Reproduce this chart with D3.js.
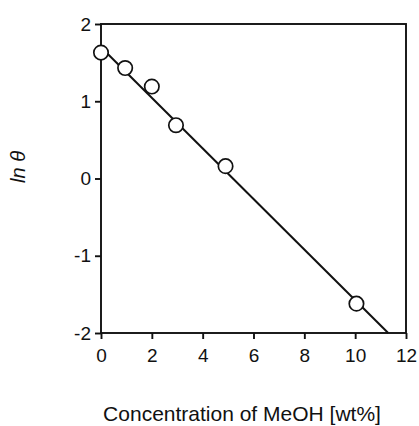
<!DOCTYPE html>
<html>
<head>
<meta charset="utf-8">
<script src="https://cdn.jsdelivr.net/npm/d3@7"></script>
<style>
	body { margin: 0; background: #fff; }
	text { font-family: "Liberation Sans", Arial, sans-serif; fill: #111; }
</style>
</head>
<body>
<svg></svg>
<script>
const conc = [0, 0.95, 2.0, 2.95, 4.9, 10.05];
const lnTheta = [1.63, 1.43, 1.19, 0.69, 0.16, -1.62];
const fitLine = [[0, 1.70], [11.3, -2.0]];
const xTicks = [0, 2, 4, 6, 8, 10, 12];
const yTicks = [-2, -1, 0, 1, 2];

const margin = { t: 24, r: 13, b: 93, l: 101 };
const size = { w: 419, h: 426 };
const svg = d3.select("svg").attr("width", size.w).attr("height", size.h);

const scaleX = d3.scaleLinear().domain([0, 12]).range([margin.l, size.w - margin.r]);
const scaleY = d3.scaleLinear().domain([-2, 2]).range([size.h - margin.b, margin.t]);

// frame
svg.append("rect")
	.attr("x", scaleX(0)).attr("y", scaleY(2))
	.attr("width", scaleX(12) - scaleX(0)).attr("height", scaleY(-2) - scaleY(2))
	.attr("fill", "none").attr("stroke", "#111").attr("stroke-width", 1.9);

const xAxis = svg.append("g")
	.attr("transform", `translate(0,${scaleY(-2)})`)
	.call(d3.axisBottom(scaleX).tickValues(xTicks).tickSize(6).tickPadding(10).tickFormat((d) => d));
const yAxis = svg.append("g")
	.attr("transform", `translate(${scaleX(0)},0)`)
	.call(d3.axisLeft(scaleY).tickValues(yTicks).tickSize(6).tickPadding(4).tickFormat((d) => d));

[xAxis, yAxis].forEach((ax) => {
	ax.select(".domain").remove();
	ax.selectAll("line").attr("stroke", "#111").attr("stroke-width", 1.9);
	ax.selectAll("text").style("font-size", "19px").style("font-family", "Liberation Sans, Arial, sans-serif");
});

// fitted line
svg.append("path")
	.datum(fitLine)
	.attr("d", d3.line().x((d) => scaleX(d[0])).y((d) => scaleY(d[1])))
	.attr("fill", "none").attr("stroke", "#111").attr("stroke-width", 2);

// points
svg.append("g")
	.selectAll("circle")
	.data(conc.map((c, i) => ({ x: c, y: lnTheta[i] })))
	.join("circle")
	.attr("cx", (d) => scaleX(d.x))
	.attr("cy", (d) => scaleY(d.y))
	.attr("r", 7.2)
	.attr("fill", "#fff")
	.attr("stroke", "#111")
	.attr("stroke-width", 1.7);

svg.append("text")
	.attr("x", 242).attr("y", 421)
	.attr("text-anchor", "middle")
	.style("font-size", "21px")
	.text("Concentration of MeOH [wt%]");

svg.append("text")
	.attr("transform", "translate(25,167) rotate(-90)")
	.attr("text-anchor", "middle")
	.style("font-size", "20px")
	.style("font-style", "italic")
	.text("ln θ");
</script>
</body>
</html>
